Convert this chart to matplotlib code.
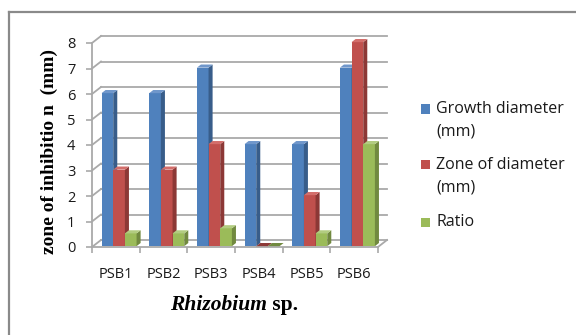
import matplotlib
matplotlib.use("Agg")
import matplotlib.pyplot as plt
from matplotlib.patches import Polygon, Rectangle
from matplotlib.lines import Line2D

categories = ["PSB1", "PSB2", "PSB3", "PSB4", "PSB5", "PSB6"]
growth_diameter = [6, 6, 7, 4, 4, 7]
zone_diameter = [3, 3, 4, 0, 2, 8]
ratio = [0.5, 0.5, 0.7, 0, 0.5, 4]
series_names = ["Growth diameter\n(mm)", "Zone of diameter\n(mm)", "Ratio"]
y_ticks = [0, 1, 2, 3, 4, 5, 6, 7, 8]

W, H = 576, 335
fig = plt.figure(figsize=(W / 100, H / 100), dpi=100)
fig.patch.set_facecolor("white")


def box(x0, y0, x1, y1):
    return [x0 / W, 1 - y1 / H, (x1 - x0) / W, (y1 - y0) / H]


# front plane of the 3-D plot area
ax = fig.add_axes(box(92, 43, 378, 247))
ax.set_xlim(0, len(categories))
ax.set_ylim(0, max(y_ticks))
ax.patch.set_alpha(0)

# depth of the chart box, in data units (back wall shifted up-right)
DX = 9 / (286 / len(categories))
DY = 7 / (204 / max(y_ticks))
grid_col = "#a9a9a9"

for v in y_ticks:
    ax.plot([DX, len(categories) + DX], [v + DY, v + DY], color=grid_col,
            lw=1.3, clip_on=False, zorder=1)
    ax.plot([0, DX], [v, v + DY], color=grid_col, lw=1.3, clip_on=False, zorder=1)
ax.plot([len(categories), len(categories) + DX], [0, DY], color=grid_col,
        lw=1.3, clip_on=False, zorder=1)

for s in ["top", "right"]:
    ax.spines[s].set_visible(False)
for s in ["left", "bottom"]:
    ax.spines[s].set_color(grid_col)
    ax.spines[s].set_linewidth(1.3)

tick_font = "Open Sans"
ax.set_yticks(y_ticks)
ax.set_yticklabels([str(v) for v in y_ticks], fontfamily=tick_font, fontsize=10.5)
ax.tick_params(axis="y", length=4, width=1.2, color=grid_col, pad=8,
               labelcolor="#1a1a1a")
ax.set_xticks(range(len(categories) + 1))
ax.set_xticklabels([])
ax.set_xticks([i + 0.5 for i in range(len(categories))], minor=True)
ax.set_xticklabels(categories, minor=True, fontfamily=tick_font, fontsize=10.5,
                   color="#1a1a1a")
ax.tick_params(axis="x", which="major", length=4, width=1.2, color=grid_col)
ax.tick_params(axis="x", which="minor", length=0, pad=14.5)

# 3-D columns
face = ["#4F81BD", "#C0504D", "#9BBB59"]
side = ["#385D8A", "#8C3836", "#71893F"]
top = ["#7097CB", "#D36E6B", "#B2CC80"]
series = [growth_diameter, zone_diameter, ratio]
bar_w = 0.245
start = 0.2
f_depth = 0.12
t_depth = 0.45
bx, by = t_depth * DX, t_depth * DY
z = 3
for i in range(len(categories)):
    for j, vals in enumerate(series):
        h = vals[i]
        x0 = i + start + j * bar_w
        b = f_depth * DY
        ax.add_patch(Rectangle((x0, b), bar_w, h, facecolor=face[j],
                               edgecolor="none", zorder=z, clip_on=False))
        ax.add_patch(Polygon([(x0 + bar_w, b), (x0 + bar_w, b + h),
                              (x0 + bar_w + bx, b + h + by),
                              (x0 + bar_w + bx, b + by)],
                             closed=True, facecolor=side[j], edgecolor="none",
                             zorder=z, clip_on=False))
        ax.add_patch(Polygon([(x0, b + h), (x0 + bar_w, b + h),
                              (x0 + bar_w + bx, b + h + by), (x0 + bx, b + h + by)],
                             closed=True, facecolor=top[j] if h > 0 else side[j],
                             edgecolor="none", zorder=z, clip_on=False))
        z += 1

# legend
leg_y = [109, 165, 222]
for j, name in enumerate(series_names):
    fig.add_artist(Rectangle(((421) / W, 1 - (leg_y[j] + 4.5) / H), 9 / W, 9 / H,
                             transform=fig.transFigure, facecolor=face[j],
                             edgecolor="none"))
    fig.text(436 / W, 1 - (leg_y[j] - 8) / H, name, fontfamily=tick_font,
             fontsize=11.5, va="top", ha="left", linespacing=1.5, color="#1a1a1a")

# axis titles
fig.text(49 / W, 1 - 151 / H, "zone of inhibitio n  (mm)", rotation=90,
         fontfamily="Liberation Serif", fontweight="bold", fontsize=14,
         ha="center", va="center")

t1 = fig.text(0, 1 - 305 / H, "Rhizobium", fontfamily="Liberation Serif",
              fontweight="bold", fontstyle="italic", fontsize=15.5, ha="left",
              va="center")
t2 = fig.text(0, 1 - 305 / H, " sp.", fontfamily="Liberation Serif",
              fontweight="bold", fontsize=15.5, ha="left", va="center")
r = fig.canvas.get_renderer()
w1 = t1.get_window_extent(r).width
w2 = t2.get_window_extent(r).width
x_start = 234 - (w1 + w2) / 2
t1.set_x(x_start / W)
t2.set_x((x_start + w1) / W)

# chart frame
fig.add_artist(Line2D([8.5 / W, 1], [1 - 11.5 / H] * 2, color="#8a8a8a", lw=1.6))
fig.add_artist(Line2D([8.5 / W] * 2, [0, 1 - 11.5 / H], color="#8a8a8a", lw=1.6))

fig.savefig("out.png", dpi=100)
